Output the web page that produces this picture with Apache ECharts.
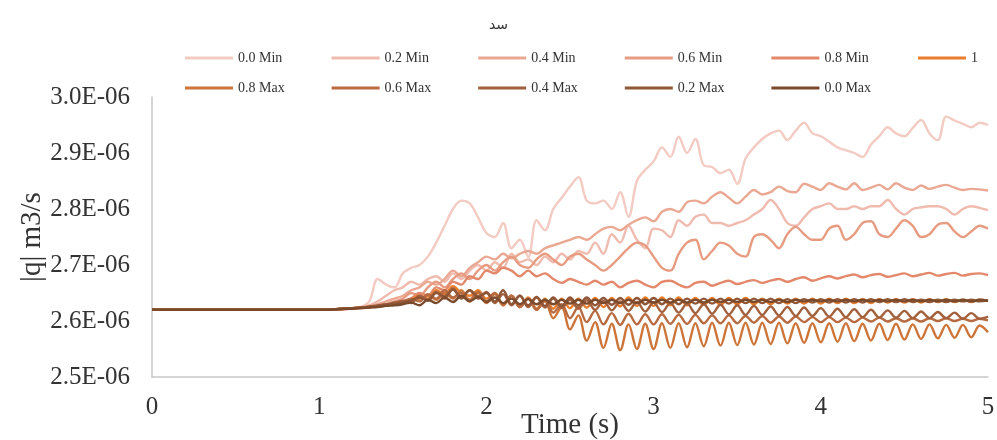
<!DOCTYPE html>
<html>
<head>
<meta charset="utf-8">
<script src="https://cdn.jsdelivr.net/npm/echarts@6/dist/echarts.min.js"></script>
<style>html,body{margin:0;padding:0;background:#fff;}#c{width:997px;height:440px;}</style>
</head>
<body>
<div id="c"></div>
<script>
// time (s)
var times = [0,1,1.05,1.1,1.15,1.2,1.25,1.3,1.35,1.4,1.45,1.5,1.55,1.6,1.65,1.7,1.75,1.8,1.85,1.9,1.95,2,2.05,2.1,2.15,2.2,2.25,2.3,2.35,2.4,2.45,2.5,2.55,2.6,2.65,2.7,2.75,2.8,2.85,2.9,2.95,3,3.05,3.1,3.15,3.2,3.25,3.3,3.35,3.4,3.45,3.5,3.55,3.6,3.65,3.7,3.75,3.8,3.85,3.9,3.95,4,4.05,4.1,4.15,4.2,4.25,4.3,4.35,4.4,4.45,4.5,4.55,4.6,4.65,4.7,4.75,4.8,4.85,4.9,4.95,5];
// |q| values in units of 1E-06 m3/s
var min00 = [2.62,
 2.62,2.62,2.621,2.622,2.623,2.625,2.635,2.675,2.665,2.66,
 2.685,2.695,2.70,2.715,2.74,2.77,2.80,2.815,2.81,2.785,
 2.757,2.75,2.775,2.73,2.745,2.714,2.78,2.762,2.80,2.82,
 2.84,2.857,2.815,2.81,2.815,2.80,2.83,2.786,2.85,2.87,
 2.885,2.91,2.893,2.929,2.90,2.925,2.878,2.875,2.864,2.87,
 2.845,2.89,2.91,2.925,2.935,2.94,2.923,2.94,2.954,2.935,
 2.93,2.92,2.91,2.905,2.90,2.893,2.915,2.93,2.946,2.935,
 2.93,2.945,2.959,2.935,2.923,2.965,2.958,2.952,2.946,2.954,
 2.95];
var min02 = [2.62,
 2.62,2.62,2.621,2.622,2.623,2.625,2.628,2.635,2.645,2.655,
 2.66,2.67,2.665,2.675,2.68,2.67,2.685,2.675,2.69,2.70,
 2.69,2.705,2.695,2.72,2.705,2.71,2.70,2.715,2.705,2.72,
 2.71,2.725,2.72,2.74,2.72,2.755,2.74,2.77,2.745,2.73,
 2.765,2.762,2.75,2.78,2.77,2.786,2.79,2.775,2.775,2.77,
 2.775,2.78,2.79,2.80,2.816,2.80,2.775,2.77,2.785,2.80,
 2.805,2.81,2.80,2.80,2.805,2.80,2.805,2.805,2.816,2.80,
 2.79,2.80,2.803,2.805,2.805,2.80,2.79,2.80,2.805,2.802,
 2.798];
var min04 = [2.62,
 2.62,2.62,2.621,2.622,2.623,2.624,2.627,2.63,2.635,2.64,
 2.645,2.655,2.66,2.67,2.665,2.675,2.69,2.68,2.695,2.705,
 2.715,2.71,2.72,2.712,2.72,2.725,2.72,2.73,2.735,2.74,
 2.745,2.75,2.745,2.755,2.765,2.768,2.762,2.772,2.78,2.785,
 2.778,2.795,2.80,2.795,2.812,2.815,2.81,2.822,2.83,2.82,
 2.81,2.822,2.834,2.826,2.83,2.84,2.832,2.83,2.845,2.84,
 2.834,2.846,2.84,2.835,2.846,2.834,2.838,2.843,2.835,2.846,
 2.838,2.834,2.842,2.836,2.84,2.843,2.838,2.834,2.836,2.835,
 2.833];
var min06 = [2.62,
 2.62,2.62,2.621,2.621,2.622,2.623,2.625,2.627,2.63,2.635,
 2.64,2.65,2.645,2.66,2.67,2.66,2.675,2.685,2.675,2.69,
 2.70,2.69,2.705,2.715,2.70,2.695,2.71,2.72,2.71,2.70,
 2.715,2.72,2.71,2.70,2.69,2.70,2.715,2.73,2.74,2.735,
 2.715,2.695,2.69,2.72,2.74,2.745,2.71,2.725,2.74,2.735,
 2.72,2.715,2.75,2.755,2.745,2.73,2.755,2.768,2.755,2.745,
 2.745,2.765,2.77,2.745,2.755,2.775,2.778,2.755,2.75,2.765,
 2.78,2.77,2.75,2.755,2.772,2.775,2.76,2.75,2.76,2.77,
 2.765];
var min08 = [2.62,
 2.62,2.62,2.621,2.621,2.622,2.623,2.624,2.626,2.628,2.631,
 2.635,2.64,2.65,2.645,2.66,2.655,2.67,2.665,2.68,2.675,
 2.69,2.685,2.695,2.69,2.68,2.69,2.68,2.685,2.675,2.668,
 2.675,2.67,2.665,2.672,2.665,2.67,2.66,2.668,2.672,2.665,
 2.66,2.67,2.672,2.665,2.66,2.668,2.67,2.663,2.668,2.672,
 2.666,2.67,2.673,2.668,2.672,2.675,2.67,2.675,2.678,2.672,
 2.676,2.68,2.676,2.68,2.683,2.678,2.682,2.684,2.679,2.682,
 2.685,2.68,2.683,2.686,2.681,2.684,2.686,2.681,2.684,2.685,
 2.682];
var one = [2.62,
 2.62,2.62,2.621,2.622,2.623,2.624,2.625,2.627,2.629,2.631,
 2.634,2.638,2.645,2.64,2.655,2.648,2.662,2.65,2.645,2.655,
 2.64,2.65,2.628,2.645,2.625,2.642,2.622,2.64,2.622,2.64,
 2.623,2.64,2.624,2.641,2.625,2.641,2.626,2.642,2.627,2.642,
 2.627,2.642,2.628,2.642,2.628,2.641,2.629,2.641,2.629,2.641,
 2.63,2.641,2.63,2.64,2.63,2.64,2.631,2.64,2.631,2.64,
 2.631,2.64,2.632,2.64,2.632,2.639,2.632,2.639,2.633,2.639,
 2.633,2.639,2.633,2.639,2.634,2.639,2.634,2.638,2.634,2.638,
 2.636];
var max08 = [2.62,
 2.62,2.62,2.621,2.622,2.623,2.624,2.625,2.626,2.628,2.63,
 2.632,2.636,2.64,2.645,2.638,2.65,2.64,2.655,2.635,2.65,
 2.632,2.648,2.628,2.645,2.625,2.64,2.62,2.635,2.605,2.625,
 2.585,2.61,2.565,2.598,2.552,2.595,2.548,2.594,2.55,2.595,
 2.55,2.596,2.552,2.596,2.553,2.596,2.555,2.597,2.556,2.597,
 2.557,2.597,2.558,2.597,2.559,2.597,2.56,2.596,2.561,2.596,
 2.562,2.596,2.563,2.596,2.564,2.595,2.565,2.595,2.566,2.595,
 2.567,2.594,2.568,2.594,2.569,2.593,2.57,2.593,2.571,2.592,
 2.58];
var max06 = [2.62,
 2.62,2.62,2.621,2.622,2.623,2.624,2.625,2.627,2.629,2.632,
 2.635,2.64,2.635,2.648,2.64,2.655,2.642,2.65,2.638,2.652,
 2.635,2.65,2.63,2.645,2.625,2.64,2.62,2.638,2.615,2.63,
 2.605,2.625,2.598,2.618,2.594,2.614,2.593,2.613,2.594,2.612,
 2.594,2.612,2.595,2.611,2.595,2.611,2.596,2.61,2.596,2.61,
 2.596,2.609,2.597,2.609,2.597,2.608,2.597,2.608,2.598,2.607,
 2.598,2.607,2.598,2.606,2.598,2.606,2.599,2.606,2.599,2.605,
 2.599,2.605,2.599,2.605,2.60,2.605,2.60,2.604,2.60,2.604,
 2.601];
var max04 = [2.62,
 2.62,2.62,2.621,2.622,2.623,2.624,2.626,2.628,2.63,2.633,
 2.636,2.632,2.645,2.638,2.652,2.64,2.658,2.642,2.655,2.64,
 2.652,2.632,2.648,2.628,2.645,2.625,2.642,2.624,2.64,2.623,
 2.638,2.622,2.637,2.62,2.636,2.619,2.635,2.618,2.634,2.617,
 2.633,2.616,2.632,2.615,2.631,2.614,2.63,2.613,2.629,2.612,
 2.628,2.611,2.627,2.611,2.626,2.61,2.625,2.609,2.624,2.609,
 2.623,2.608,2.622,2.607,2.621,2.607,2.62,2.606,2.619,2.606,
 2.618,2.605,2.617,2.605,2.616,2.605,2.615,2.604,2.614,2.604,
 2.608];
var max02 = [2.62,
 2.62,2.62,2.621,2.622,2.623,2.624,2.625,2.627,2.629,2.631,
 2.633,2.637,2.642,2.636,2.65,2.644,2.656,2.64,2.655,2.644,
 2.65,2.635,2.655,2.63,2.645,2.628,2.643,2.627,2.642,2.627,
 2.642,2.628,2.642,2.628,2.641,2.629,2.641,2.629,2.641,2.63,
 2.641,2.63,2.64,2.63,2.64,2.631,2.64,2.631,2.64,2.631,
 2.64,2.632,2.64,2.632,2.64,2.632,2.639,2.632,2.639,2.633,
 2.639,2.633,2.639,2.633,2.639,2.633,2.639,2.634,2.639,2.634,
 2.639,2.634,2.638,2.634,2.638,2.634,2.638,2.635,2.638,2.635,
 2.637];
var max00 = [2.62,
 2.62,2.62,2.621,2.622,2.622,2.623,2.624,2.625,2.627,2.628,
 2.63,2.633,2.628,2.638,2.632,2.642,2.634,2.645,2.635,2.643,
 2.634,2.642,2.632,2.64,2.63,2.639,2.63,2.638,2.63,2.638,
 2.631,2.638,2.631,2.638,2.632,2.638,2.632,2.638,2.632,2.638,
 2.633,2.638,2.633,2.638,2.633,2.638,2.633,2.638,2.634,2.638,
 2.634,2.638,2.634,2.638,2.634,2.638,2.634,2.638,2.635,2.638,
 2.635,2.638,2.635,2.638,2.635,2.638,2.635,2.638,2.635,2.638,
 2.635,2.638,2.635,2.638,2.635,2.638,2.635,2.638,2.635,2.638,
 2.636];

var seriesNames = ['0.0 Min','0.2 Min','0.4 Min','0.6 Min','0.8 Min','1','0.8 Max','0.6 Max','0.4 Max','0.2 Max','0.0 Max'];
var seriesValues = [min00, min02, min04, min06, min08, one, max08, max06, max04, max02, max00];
var seriesColors = ['#f3cbc2','#efbbae','#eaa893','#e79c82','#e3886a','#ea7d2c','#cd7438','#b86a40','#a3603d','#8f5637','#7a4a2c'];
var yTicks = [2.5, 2.6, 2.7, 2.8, 2.9, 3.0];

var chart = echarts.init(document.getElementById('c'), null, {renderer: 'canvas'});
var serif = '"Liberation Serif", "Times New Roman", serif';
var series = seriesNames.map(function (name, k) {
  return {
    name: name,
    type: 'line',
    symbol: 'none',
    smooth: 0.35,
    lineStyle: {width: 2.4, color: seriesColors[k]},
    itemStyle: {color: seriesColors[k]},
    data: times.map(function (t, i) { return [t, seriesValues[k][i]]; })
  };
});
chart.setOption({
  animation: false,
  backgroundColor: '#ffffff',
  title: {
    text: 'سد',
    left: 'center',
    top: 13,
    textStyle: {fontFamily: '"DejaVu Sans", sans-serif', fontSize: 14, fontWeight: 'normal', color: '#333'}
  },
  legend: {
    data: seriesNames,
    left: 185,
    top: 43,
    padding: 0,
    width: 890,
    itemGap: 0,
    itemWidth: 48,
    itemHeight: 3,
    icon: 'rect',
    textStyle: {fontFamily: serif, fontSize: 14, color: '#333', width: 93.6, lineHeight: 30}
  },
  grid: {left: 152, right: 9, top: 97, bottom: 63, containLabel: false, outerBoundsMode: 'none'},
  xAxis: {
    type: 'value',
    min: 0, max: 5, interval: 1,
    name: 'Time (s)',
    nameLocation: 'middle',
    nameGap: 34,
    nameMoveOverlap: false,
    nameTextStyle: {fontFamily: serif, fontSize: 29, color: '#333'},
    axisLine: {show: true, lineStyle: {color: '#c8c8c8', width: 1.5}},
    axisTick: {show: false},
    splitLine: {show: false},
    axisLabel: {fontFamily: serif, fontSize: 25, color: '#333', margin: 18}
  },
  yAxis: {
    type: 'value',
    min: yTicks[0], max: yTicks[yTicks.length - 1], interval: 0.1,
    name: '|q| m3/s',
    nameLocation: 'middle',
    nameGap: 105,
    nameMoveOverlap: false,
    nameTextStyle: {fontFamily: serif, fontSize: 29, color: '#333'},
    axisLine: {show: true, lineStyle: {color: '#c8c8c8', width: 1.5}},
    axisTick: {show: false},
    splitLine: {show: false},
    axisLabel: {fontFamily: serif, fontSize: 25, color: '#333', margin: 22,
      formatter: function (v) { return v.toFixed(1) + 'E-06'; }}
  },
  series: series
});
</script>
</body>
</html>
